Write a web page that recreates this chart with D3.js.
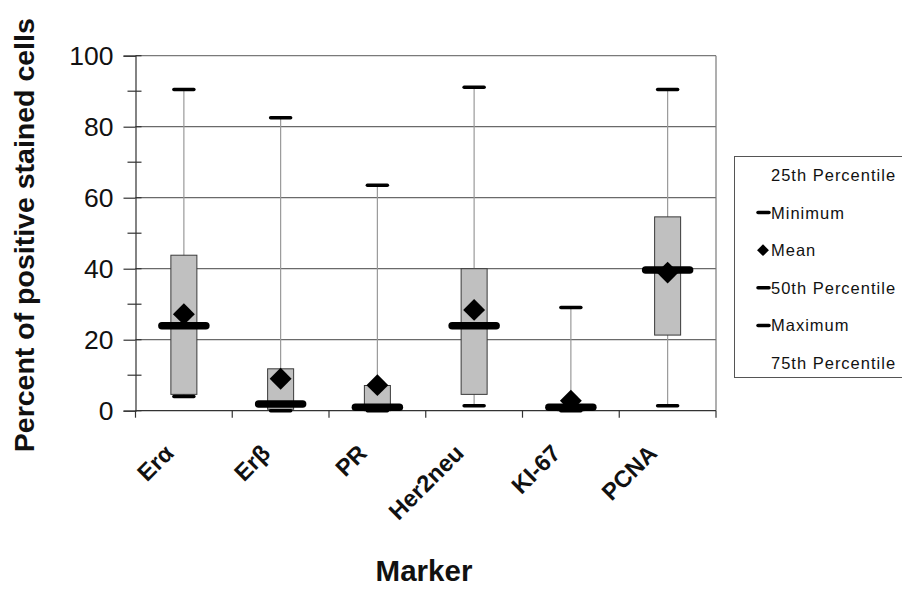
<!DOCTYPE html>
<html>
<head>
<meta charset="utf-8">
<script src="https://cdn.jsdelivr.net/npm/d3@7"></script>
<style>
  html, body { margin: 0; padding: 0; background: #fff; }
  svg { display: block; }
  text { font-family: "Liberation Sans", Arial, sans-serif; }
</style>
</head>
<body>
<svg id="chart" width="902" height="590"></svg>
<script>
// ---- data ----
const categories = ["Erα", "Erβ", "PR", "Her2neu", "KI-67", "PCNA"];
const minimum    = [4.0, 0.0, 0.0, 1.4, 0.0, 1.4];
const q1         = [4.6, 0.4, 0.0, 4.6, 0.0, 21.3];
const median     = [23.9, 1.9, 1.0, 23.9, 1.0, 39.6];
const q3         = [43.8, 11.8, 7.1, 40.0, 1.0, 54.6];
const maximum    = [90.5, 82.5, 63.5, 91.1, 29.1, 90.5];
const mean       = [27.2, 9.0, 7.2, 28.4, 2.8, 38.9];
const yTicks     = [0, 20, 40, 60, 80, 100];
const yMinorTicks = [10, 30, 50, 70, 90];
const legendItems = ["25th Percentile", "Minimum", "Mean", "50th Percentile", "Maximum", "75th Percentile"];
const legendMarks = ["none", "dash", "diamond", "dash", "dash", "none"];

const rows = categories.map((c, i) => ({
  cat: c, min: minimum[i], q1: q1[i], med: median[i], q3: q3[i], max: maximum[i], mean: mean[i]
}));

const svg = d3.select("#chart");
const L = 135.5, T = 55.7, R = 716, B = 410.7;

const x = d3.scaleBand().domain(categories).range([L, R]).padding(0);
const y = d3.scaleLinear().domain([0, 100]).range([B, T]);

// gridlines
svg.append("g").selectAll("line").data(yTicks.filter(d => d > 0 && d < 100)).join("line")
  .attr("x1", L).attr("x2", R).attr("y1", d => y(d)).attr("y2", d => y(d))
  .attr("stroke", "#6a6a6a").attr("stroke-width", 1.2);

// plot frame top/right
svg.append("line").attr("x1", L).attr("x2", R).attr("y1", y(100)).attr("y2", y(100))
  .attr("stroke", "#7a7a7a").attr("stroke-width", 1.2);
svg.append("line").attr("x1", R).attr("x2", R).attr("y1", y(100)).attr("y2", y(0))
  .attr("stroke", "#7a7a7a").attr("stroke-width", 1.2);

// y axis
const yAxis = d3.axisLeft(y).tickValues(yTicks).tickSize(12).tickPadding(10);
const gy = svg.append("g").attr("transform", `translate(${L},0)`).call(yAxis);
gy.select(".domain").attr("stroke", "#333").attr("stroke-width", 1.2);
gy.selectAll(".tick line").attr("stroke", "#333").attr("stroke-width", 1.2);
gy.selectAll(".tick text").attr("font-size", 26.5).attr("fill", "#111")
  .style("font-family", "'Liberation Sans', Arial, sans-serif");
// minor ticks (crossing)
svg.append("g").selectAll("line").data(yMinorTicks).join("line")
  .attr("x1", L - 8).attr("x2", L + 6).attr("y1", d => y(d)).attr("y2", d => y(d))
  .attr("stroke", "#333").attr("stroke-width", 1.2);
svg.append("g").selectAll("line").data(yTicks).join("line")
  .attr("x1", L).attr("x2", L + 6).attr("y1", d => y(d)).attr("y2", d => y(d))
  .attr("stroke", "#333").attr("stroke-width", 1.2);

// x axis
svg.append("line").attr("x1", L).attr("x2", R).attr("y1", y(0)).attr("y2", y(0))
  .attr("stroke", "#333").attr("stroke-width", 1.2);
const bounds = categories.map(c => x(c)).concat([x(categories[categories.length - 1]) + x.bandwidth()]);
svg.append("g").selectAll("line").data(bounds).join("line")
  .attr("x1", d => d).attr("x2", d => d).attr("y1", y(0)).attr("y2", y(0) + 7)
  .attr("stroke", "#333").attr("stroke-width", 1.2);

// x labels
svg.append("g").selectAll("text").data(categories).join("text")
  .attr("transform", d => `translate(${x(d) + x.bandwidth() / 2 - 9},${y(0) + 44}) rotate(-45)`)
  .attr("text-anchor", "end")
  .attr("font-size", 23.5).attr("font-weight", "bold").attr("fill", "#111")
  .text(d => d);

// boxes
const cx = d => x(d.cat) + x.bandwidth() / 2;
const g = svg.append("g");
// whiskers
g.selectAll(".whisker").data(rows).join("line").attr("class", "whisker")
  .attr("x1", cx).attr("x2", cx).attr("y1", d => y(d.min)).attr("y2", d => y(d.max))
  .attr("stroke", "#9a9a9a").attr("stroke-width", 1.2);
// box
g.selectAll(".box").data(rows).join("rect").attr("class", "box")
  .attr("x", d => cx(d) - 13).attr("width", 26)
  .attr("y", d => y(d.q3)).attr("height", d => y(d.q1) - y(d.q3))
  .attr("fill", "#c0c0c0").attr("stroke", "#3a3a3a").attr("stroke-width", 1);
// min / max caps
["min", "max"].forEach(k => {
  g.selectAll(".cap-" + k).data(rows).join("line").attr("class", "cap-" + k)
    .attr("x1", d => cx(d) - 10).attr("x2", d => cx(d) + 10)
    .attr("y1", d => y(d[k])).attr("y2", d => y(d[k]))
    .attr("stroke", "#000").attr("stroke-width", 3.5).attr("stroke-linecap", "round");
});
// mean diamonds
g.selectAll(".mean").data(rows).join("path").attr("class", "mean")
  .attr("d", d3.symbol().type(d3.symbolSquare).size(240))
  .attr("transform", d => `translate(${cx(d)},${y(d.mean)}) rotate(45)`)
  .attr("fill", "#000");
// median
g.selectAll(".median").data(rows).join("line").attr("class", "median")
  .attr("x1", d => cx(d) - 22).attr("x2", d => cx(d) + 22)
  .attr("y1", d => y(d.med)).attr("y2", d => y(d.med))
  .attr("stroke", "#000").attr("stroke-width", 7.5).attr("stroke-linecap", "round");

// axis titles
svg.append("text")
  .attr("transform", `translate(34,${(T + B) / 2 + 2}) rotate(-90)`)
  .attr("text-anchor", "middle").attr("font-size", 28.5).attr("font-weight", "bold").attr("fill", "#111")
  .text("Percent of positive stained cells");
svg.append("text").attr("x", 424).attr("y", 581)
  .attr("text-anchor", "middle").attr("font-size", 29.5).attr("font-weight", "bold").attr("fill", "#111")
  .text("Marker");

// legend
const lg = svg.append("g");
lg.append("rect").attr("x", 734.5).attr("y", 156.5).attr("width", 180).attr("height", 221)
  .attr("fill", "#fff").attr("stroke", "#555").attr("stroke-width", 1);
const rowY = i => 175 + i * 37.6;
legendItems.forEach((t, i) => {
  lg.append("text").attr("x", 771).attr("y", rowY(i) + 6)
    .attr("font-size", 16.5).attr("letter-spacing", 1).attr("fill", "#111").text(t);
  if (legendMarks[i] === "dash") {
    lg.append("line").attr("x1", 758).attr("x2", 769).attr("y1", rowY(i)).attr("y2", rowY(i))
      .attr("stroke", "#000").attr("stroke-width", 3.5).attr("stroke-linecap", "round");
  } else if (legendMarks[i] === "diamond") {
    lg.append("path").attr("d", d3.symbol().type(d3.symbolSquare).size(70))
      .attr("transform", `translate(763,${rowY(i)}) rotate(45)`).attr("fill", "#000");
  }
});
</script>
</body>
</html>
